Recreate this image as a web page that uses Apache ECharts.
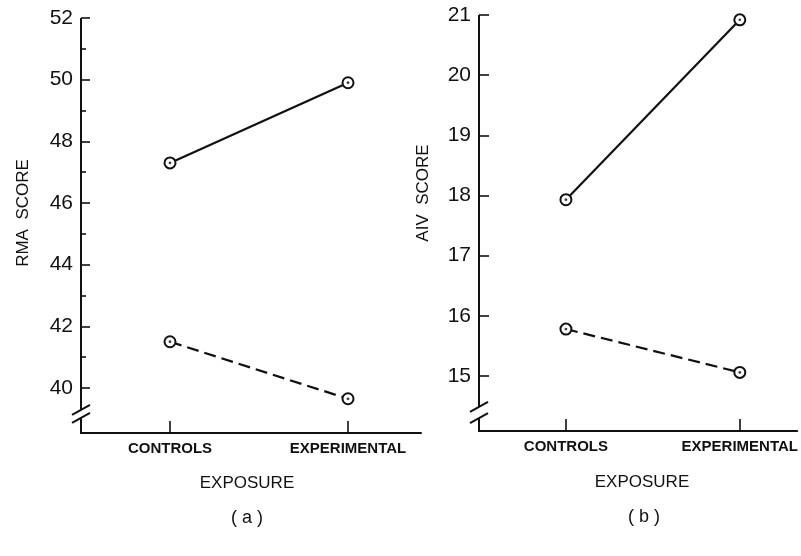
<!DOCTYPE html>
<html><head><meta charset="utf-8">
<script src="https://cdn.jsdelivr.net/npm/echarts@6/dist/echarts.min.js"></script>
<style>html,body{margin:0;padding:0;background:#fff}#c{width:801px;height:556px}</style>
</head><body><div id="c"></div>
<script>
// ---- data ----
const categories = ['CONTROLS', 'EXPERIMENTAL'];
const rmaSolid = [47.3, 49.9];
const rmaDashed = [41.5, 39.65];
const aivSolid = [17.93, 20.92];
const aivDashed = [15.78, 15.06];
const rmaMajorTicks = [40, 42, 44, 46, 48, 50, 52];
const rmaMinorTicks = [41, 43, 45, 47, 49, 51];
const aivTicks = [15, 16, 17, 18, 19, 20, 21];
const catPositions = [0, 1];

// ---- styling ----
const FONT = '"Liberation Sans", Arial, sans-serif';
const INK = '#111';
const LEFT = {xMin: -0.5, xMax: 1.41, yMin: 38.54, yMax: 52, br: [39.29, 39.03]};
const RIGHT = {xMin: -0.5, xMax: 1.33, yMin: 14.086, yMax: 21, br: [14.485, 14.30]};

function pairs(vals) { return vals.map((v, i) => [catPositions[i], v]); }

const chart = echarts.init(document.getElementById('c'), null, {renderer: 'canvas'});

function xAxisCfg(gi, r, show) {
  return {
    gridIndex: gi, type: 'value', min: r.xMin, max: r.xMax, show: show,
    axisLine: {show: true, onZero: false, lineStyle: {color: INK, width: 2}},
    axisTick: {show: true, inside: true, length: 12, customValues: catPositions, lineStyle: {color: INK, width: 1.6}},
    axisLabel: {customValues: catPositions, formatter: v => categories[Math.round(v)] || '',
      margin: 8, color: INK, fontFamily: FONT, fontWeight: 'bold', fontSize: 15},
    splitLine: {show: false}
  };
}
function yAxisCfg(gi, r, ticks, len, labels) {
  return {
    gridIndex: gi, type: 'value', min: r.yMin, max: r.yMax,
    axisLine: {show: false, onZero: false},
    axisTick: {show: true, inside: true, length: len, customValues: ticks, lineStyle: {color: INK, width: 1.6}},
    axisLabel: {show: labels, customValues: ticks, margin: 8, color: INK, fontFamily: FONT, fontSize: 21},
    splitLine: {show: false}
  };
}
function lineSeries(xi, data, dashed) {
  return {
    type: 'line', xAxisIndex: xi, yAxisIndex: xi, data: pairs(data),
    symbol: 'emptyCircle', symbolSize: 11, animation: false, silent: true,
    lineStyle: {color: INK, width: 2.2, type: dashed ? [12, 6] : 'solid'},
    itemStyle: {color: INK, borderColor: INK, borderWidth: 1.8}, z: 2
  };
}
function dotSeries(xi, data) {
  return {
    type: 'scatter', xAxisIndex: xi, yAxisIndex: xi, data: pairs(data),
    symbol: 'circle', symbolSize: 2.8, itemStyle: {color: INK}, animation: false, silent: true, z: 5
  };
}

chart.setOption({
  backgroundColor: '#fff',
  animation: false,
  grid: [
    {left: 81, top: 18, width: 340, height: 415},
    {left: 479, top: 15, width: 322, height: 416},
    {left: 81, top: 18, width: 340, height: 415}
  ],
  xAxis: [xAxisCfg(0, LEFT, true), xAxisCfg(1, RIGHT, true), xAxisCfg(2, LEFT, false)],
  yAxis: [
    yAxisCfg(0, LEFT, rmaMajorTicks, 9, true),
    yAxisCfg(1, RIGHT, aivTicks, 10, true),
    yAxisCfg(2, LEFT, rmaMinorTicks, 5, false)
  ],
  series: [
    lineSeries(0, rmaSolid, false), lineSeries(0, rmaDashed, true),
    dotSeries(0, rmaSolid), dotSeries(0, rmaDashed),
    lineSeries(1, aivSolid, false), lineSeries(1, aivDashed, true),
    dotSeries(1, aivSolid), dotSeries(1, aivDashed)
  ]
});

function axisWithBreak(idx, r) {
  const px = v => chart.convertToPixel({xAxisIndex: idx, yAxisIndex: idx}, [r.xMin, v]);
  const top = px(r.yMax), b1 = px(r.br[0]), b2 = px(r.br[1]), bot = px(r.yMin);
  const ls = {stroke: INK, lineWidth: 2};
  const slash = p => ({type: 'line', shape: {x1: p[0] - 9, y1: p[1] + 5, x2: p[0] + 9, y2: p[1] - 5}, style: ls});
  return [
    {type: 'line', shape: {x1: top[0], y1: top[1], x2: b1[0], y2: b1[1]}, style: ls},
    {type: 'line', shape: {x1: b2[0], y1: b2[1], x2: bot[0], y2: bot[1] + 1}, style: ls},
    slash(b1), slash(b2)
  ];
}
function txt(x, y, s, size, rot) {
  return {type: 'text', x: x, y: y, rotation: rot || 0,
    style: {text: s, font: size + 'px ' + FONT, fill: INK, align: 'center', verticalAlign: 'middle'}};
}

chart.setOption({
  graphic: [].concat(
    axisWithBreak(0, LEFT), axisWithBreak(1, RIGHT),
    [
      txt(23, 213, 'RMA  SCORE', 17, Math.PI / 2),
      txt(423, 193, 'AIV  SCORE', 17, Math.PI / 2),
      txt(247, 483, 'EXPOSURE', 17),
      txt(642, 482, 'EXPOSURE', 17),
      txt(247, 518, '( a )', 18),
      txt(644, 517, '( b )', 18)
    ]
  )
});
</script>
</body></html>
